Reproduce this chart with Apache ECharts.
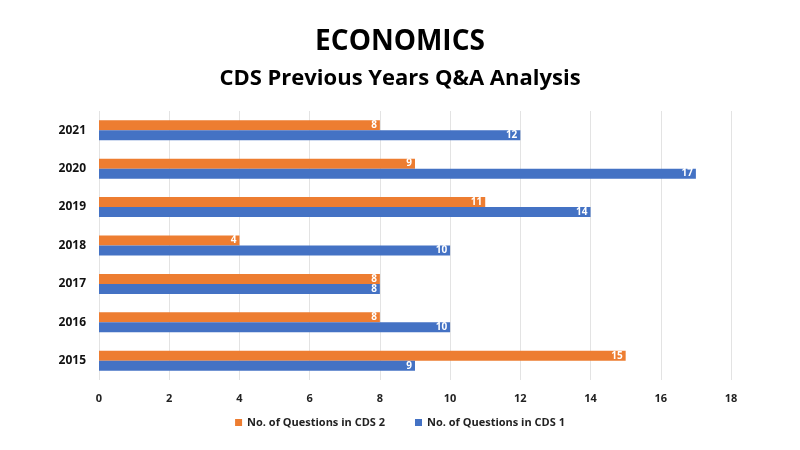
<!DOCTYPE html>
<html><head><meta charset="utf-8">
<script src="https://cdn.jsdelivr.net/npm/echarts@6/dist/echarts.min.js"></script>
<style>html,body{margin:0;padding:0;background:#fff}#c{width:800px;height:450px}</style>
</head><body><div id="c"></div>
<script>
const years = ['2015','2016','2017','2018','2019','2020','2021'];
const cds2 = [15, 8, 8, 4, 11, 9, 8];
const cds1 = [9, 10, 8, 10, 14, 17, 12];
const xTicks = [0, 2, 4, 6, 8, 10, 12, 14, 16, 18];

const font = '"Open Sans", "Noto Sans", sans-serif';
const chart = echarts.init(document.getElementById('c'));
const lbl = {show: true, position: 'insideRight', color: '#fff', fontWeight: 'bold', fontSize: 10, fontFamily: font, distance: 3};
chart.setOption({
  animation: false,
  title: [
    {text: 'ECONOMICS', left: 'center', top: 23, textStyle: {fontFamily: font, fontWeight: 'bold', fontSize: 28, color: '#000'}},
    {text: 'CDS Previous Years Q&A Analysis', left: 'center', top: 63, textStyle: {fontFamily: font, fontWeight: 'bold', fontSize: 22, color: '#000'}}
  ],
  legend: {
    bottom: 17, left: 'center', itemWidth: 7, itemHeight: 7, itemGap: 30, icon: 'rect',
    data: ['No. of Questions in CDS 2', 'No. of Questions in CDS 1'],
    textStyle: {fontFamily: font, fontWeight: 'bold', fontSize: 11, color: '#222'}
  },
  grid: {left: 99, right: 69, top: 111, bottom: 70},
  xAxis: {
    type: 'value', min: xTicks[0], max: xTicks[xTicks.length - 1], interval: 2,
    axisLine: {show: false}, axisTick: {show: false},
    splitLine: {lineStyle: {color: '#e3e3e3'}},
    axisLabel: {fontFamily: font, fontWeight: 'bold', fontSize: 11, color: '#222', margin: 13}
  },
  yAxis: {
    type: 'category', data: years,
    axisLine: {show: false}, axisTick: {show: false},
    axisLabel: {fontFamily: font, fontWeight: 'bold', fontSize: 12, color: '#111', margin: 13}
  },
  series: [
    {name: 'No. of Questions in CDS 2', type: 'bar', data: cds2, barWidth: 10, barGap: '0%',
     itemStyle: {color: '#ED7D31'}, label: lbl},
    {name: 'No. of Questions in CDS 1', type: 'bar', data: cds1, barWidth: 10, barGap: '0%',
     itemStyle: {color: '#4472C4'}, label: lbl}
  ]
});
</script></body></html>
